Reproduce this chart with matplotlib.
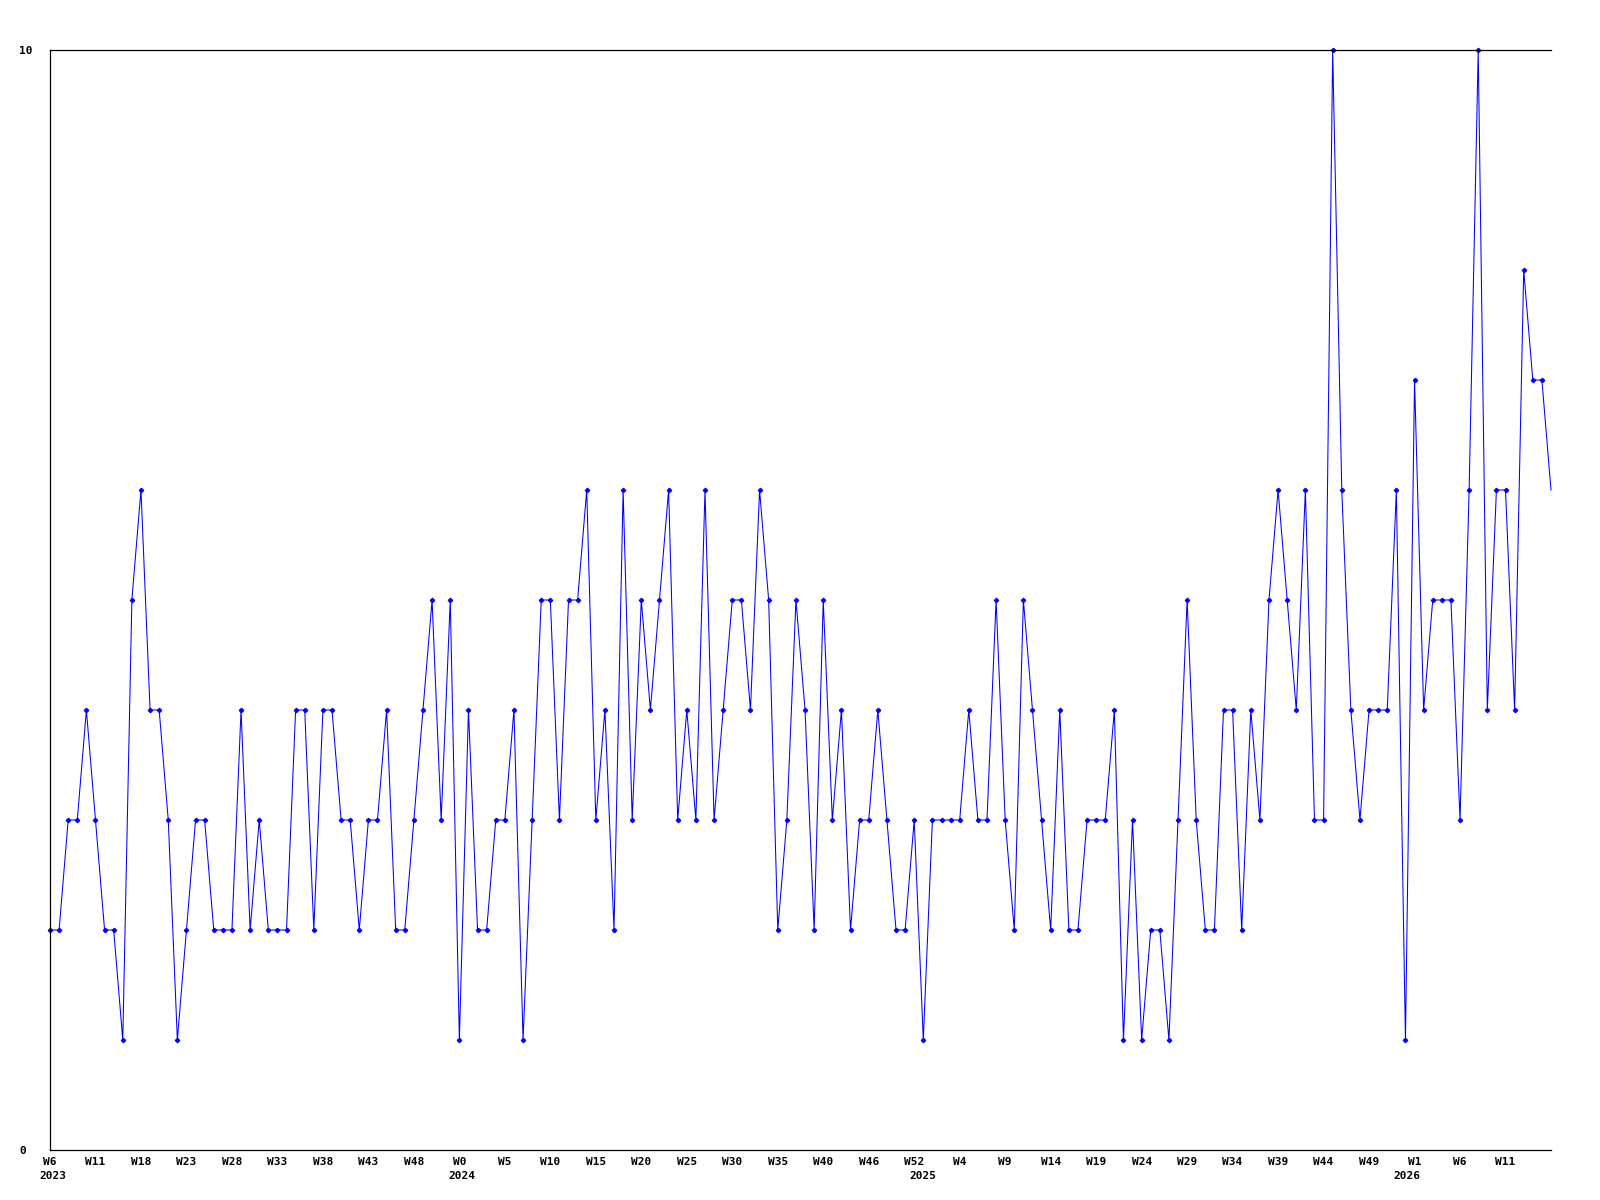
import matplotlib
matplotlib.use("Agg")
import matplotlib.pyplot as plt
import matplotlib.transforms as mtransforms

# ====== DATA ======

# weekly values, one per point, starting at W6 2023
values = [
    2, 2, 3, 3, 4, 3, 2, 2, 1, 5, 6, 4, 4, 3, 1, 2, 3, 3, 2, 2,
    2, 4, 2, 3, 2, 2, 2, 4, 4, 2, 4, 4, 3, 3, 2, 3, 3, 4, 2, 2,
    3, 4, 5, 3, 5, 1, 4, 2, 2, 3, 3, 4, 1, 3, 5, 5, 3, 5, 5, 6,
    3, 4, 2, 6, 3, 5, 4, 5, 6, 3, 4, 3, 6, 3, 4, 5, 5, 4, 6, 5,
    2, 3, 5, 4, 2, 5, 3, 4, 2, 3, 3, 4, 3, 2, 2, 3, 1, 3, 3, 3,
    3, 4, 3, 3, 5, 3, 2, 5, 4, 3, 2, 4, 2, 2, 3, 3, 3, 4, 1, 3,
    1, 2, 2, 1, 3, 5, 3, 2, 2, 4, 4, 2, 4, 3, 5, 6, 5, 4, 6, 3,
    3, 10, 6, 4, 3, 4, 4, 4, 6, 1, 7, 4, 5, 5, 5, 3, 6, 10, 4, 6,
    6, 4, 8, 7, 7, 6,
]

# one week label every 5 points
week_labels = [
    "W6", "W11", "W18", "W23", "W28", "W33", "W38", "W43", "W48", "W0",
    "W5", "W10", "W15", "W20", "W25", "W30", "W35", "W40", "W46", "W52",
    "W4", "W9", "W14", "W19", "W24", "W29", "W34", "W39", "W44", "W49",
    "W1", "W6", "W11",
]

# year labels and the point index they sit under
years = ["2023", "2024", "2025", "2026"]
year_index = [0.3, 45.3, 96, 149.2]

y_ticks = [0, 10]

# ====== CHART ======

font = {"family": "DejaVu Sans Mono", "weight": "bold", "size": 8}

fig = plt.figure(figsize=(16, 12), dpi=100)
ax = fig.add_axes([50 / 1600, 50 / 1200, 1501 / 1600, 1100 / 1200])

x = list(range(len(values)))
ax.plot(x, values, color="#0000ff", linewidth=0.75, marker="D",
        markersize=2.2, markevery=slice(0, len(values) - 1), clip_on=False)

ax.set_xlim(0, len(values) - 1)
ax.set_ylim(0, 10)

ax.spines["right"].set_visible(False)
for s in ["left", "bottom", "top"]:
    ax.spines[s].set_linewidth(0.9)
    ax.spines[s].set_color("black")

ax.set_yticks(y_ticks)
ax.set_yticklabels([str(v) for v in y_ticks], fontdict=font)
for lab in ax.get_yticklabels():
    lab.set_horizontalalignment("left")
ax.tick_params(axis="y", length=0, pad=22)

ax.set_xticks(range(0, len(week_labels) * 5, 5))
ax.set_xticklabels(week_labels, fontdict=font)
ax.tick_params(axis="x", length=0, pad=5)

trans = mtransforms.blended_transform_factory(ax.transData, ax.transAxes)
offset = mtransforms.ScaledTranslation(0, -26 / 100, fig.dpi_scale_trans)
for yr, i in zip(years, year_index):
    ax.text(i, 0, yr, transform=trans + offset, ha="center", va="center",
            fontdict=font)

fig.savefig("out.png", dpi=100)
